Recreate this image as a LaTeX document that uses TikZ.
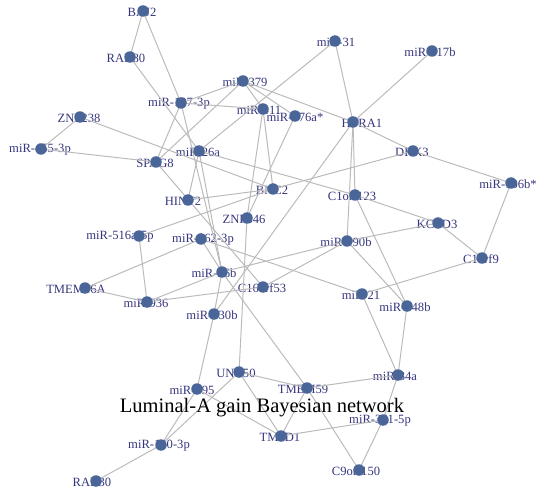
\documentclass[tikz,border=0pt]{standalone}
\usepackage{fontspec}
\setmainfont{Liberation Serif}
\definecolor{dotc}{HTML}{4A6698}
\definecolor{labc}{HTML}{35357E}
\definecolor{edgec}{HTML}{BBBBBB}
\tikzset{
  gdot/.style={circle,fill=dotc,minimum size=11.5pt,inner sep=0pt},
  glab/.style={text=labc,font=\fontsize{12.6}{13}\selectfont,inner sep=0pt},
  gedge/.style={draw=edgec,line width=1pt}
}
\newcommand{\gn}[5]{% name, x, y, label, label dx
  \node[glab] (#1-l) at (#2+#5,#3+1) {#4};
  \coordinate (#1) at (#2,#3);}
\begin{document}
\begin{tikzpicture}[x=1pt,y=-1pt]
\useasboundingbox (0,0) rectangle (536,492);
% nodes
\gn{baj}{143}{11}{BAJ2}{-1}
\gn{rabe}{130}{57}{RAB80}{-4}
\gn{m379}{243}{81}{miR-379}{2}
\gn{m127}{181}{103}{miR-127-3p}{-2}
\gn{m411}{263}{109}{miR-411}{-4}
\gn{m376}{295}{116}{miR-376a*}{0}
\gn{m31}{335}{41}{miR-31}{1}
\gn{m517}{432}{51}{miR-517b}{-2}
\gn{htra}{353}{122}{HTRA1}{9}
\gn{znf238}{80}{117}{ZNF238}{-1}
\gn{m455}{41}{149}{miR-455-3p}{-1}
\gn{spag}{156}{162}{SPAG8}{-1}
\gn{m26a}{199}{151}{miR-26a}{-1}
\gn{dkk}{413}{151}{DKK3}{-1}
\gn{m106}{511}{183}{miR-106b*}{-3}
\gn{bnc}{273}{189}{BNC2}{-1}
\gn{hint}{188}{200}{HINT2}{-5}
\gn{c1o123}{355}{195}{C1orf123}{-3}
\gn{znf646}{247}{218}{ZNF646}{-3}
\gn{kctd}{438}{223}{KCTD3}{-1}
\gn{m516}{139}{236}{miR-516a-5p}{-19}
\gn{m362}{201}{239}{miR-362-3p}{2}
\gn{m190}{347}{241}{miR-190b}{-1}
\gn{c1o9}{482}{258}{C1orf9}{-1}
\gn{m26b}{222}{272}{miR-26b}{-8}
\gn{tmem16}{85}{288}{TMEM16A}{-9}
\gn{c16}{263}{287}{C16orf53}{-1}
\gn{m21}{362}{294}{miR-21}{-1}
\gn{m936}{147}{302}{miR-936}{-1}
\gn{m148}{407}{306}{miR-148b}{-2}
\gn{m130}{214}{314}{miR-130b}{-2}
\gn{unc}{239}{372}{UNC50}{-3}
\gn{m34}{398}{375}{miR-34a}{-3}
\gn{tmem59}{307}{388}{TMEM59}{-4}
\gn{m195}{197}{389}{miR-195}{-5}
\gn{m361}{383}{420}{miR-361-5p}{-3}
\gn{tm2d}{281}{436}{TM2D1}{-1}
\gn{m140}{161}{445}{miR-140-3p}{-2}
\gn{c9o}{359}{470}{C9orf150}{-3}
\gn{rabt}{96}{481}{RAB30}{-4}
% edges
\foreach \a/\b in {baj/rabe,baj/m127,rabe/m26a,m379/m127,m379/spag,m379/m411,m379/m376,m379/htra,
  m127/m411,m127/spag,m127/m26b,znf238/m455,m455/spag,znf238/bnc,m26a/c1o123,
  m31/htra,m31/m26a,m517/htra,htra/dkk,dkk/m106,htra/c1o123,htra/m190,htra/m130,dkk/bnc,
  m411/bnc,m411/znf646,m376/znf646,bnc/hint,bnc/m516,znf646/unc,c1o123/kctd,c1o123/m148,
  kctd/m190,kctd/c1o9,m106/c1o9,c1o9/m21,m190/m148,m190/c16,m190/m26b,m362/m21,
  m21/m34,m148/m34,m34/tmem59,m34/m361,m361/tm2d,m361/c9o,m362/m26b,m26b/tmem59,tmem59/c9o,
  unc/tmem59,unc/tm2d,unc/m140,m195/m140,m195/tm2d,tmem59/tm2d,m140/rabt,m130/m195,m26b/m130,
  m516/m936,tmem16/m936,tmem16/m362,m936/m26b,m936/c16,spag/c16,m26a/m26b,m26a/hint}
  \draw[gedge] (\a) -- (\b);
% dots over labels
\foreach \n in {baj,rabe,m379,m127,m411,m376,m31,m517,htra,znf238,m455,spag,m26a,dkk,m106,bnc,hint,
  c1o123,znf646,kctd,m516,m362,m190,c1o9,m26b,tmem16,c16,m21,m936,m148,m130,unc,m34,tmem59,m195,
  m361,tm2d,m140,c9o,rabt}
  \node[gdot] (\n-d) at (\n) {};
\node[font=\fontsize{20.5}{22}\selectfont,anchor=base] (title) at (262,412) {Luminal-A gain Bayesian network};
\end{tikzpicture}
\end{document}
